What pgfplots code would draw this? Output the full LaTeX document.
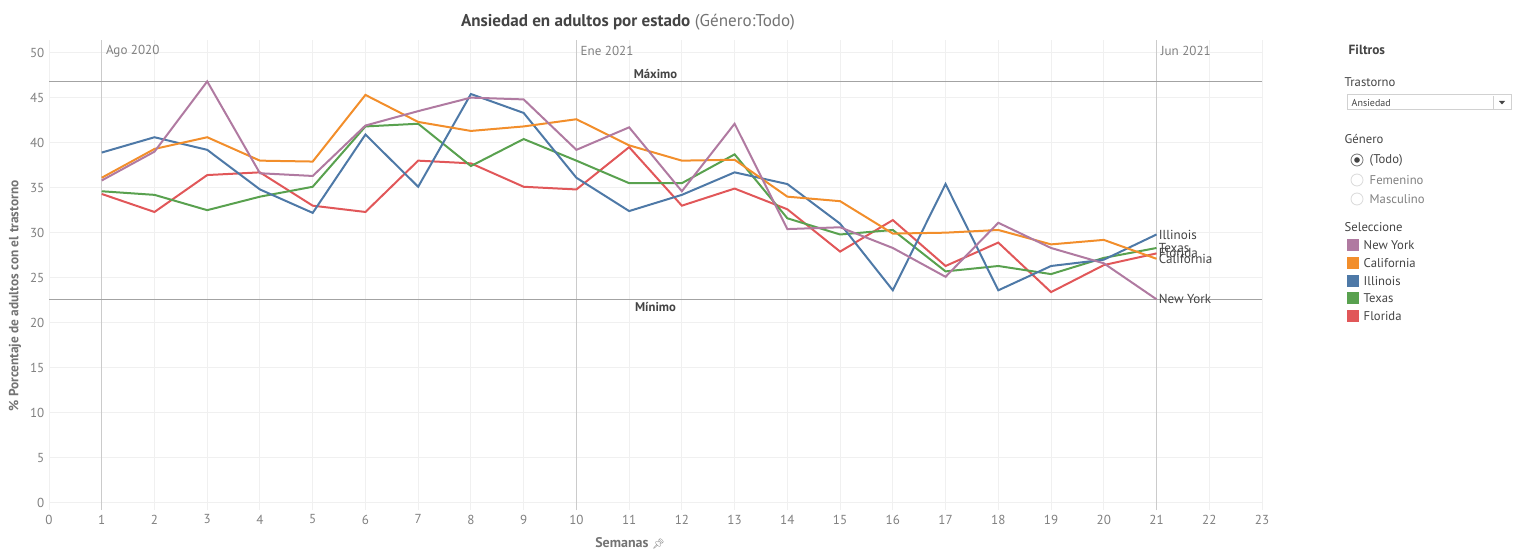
\documentclass[border=0pt]{standalone}
\usepackage{pgfplots}
\pgfplotsset{compat=1.18}
\usepackage{pgfplotstable}
\usepackage{fontspec}
\setmainfont{PT Sans}
\newfontfamily\emojifont{Noto Emoji}
\definecolor{ny}{HTML}{B07AA1}
\definecolor{ca}{HTML}{F28E2B}
\definecolor{il}{HTML}{4E79A7}
\definecolor{tx}{HTML}{59A14F}
\definecolor{fl}{HTML}{E15759}
\definecolor{gridc}{HTML}{F0F0F0}
\definecolor{refc}{HTML}{CBCBCB}
\definecolor{limc}{HTML}{A3A3A3}
\definecolor{tickc}{HTML}{808080}
\definecolor{darkt}{HTML}{444444}

% semana, New York, California, Illinois, Texas, Florida
\pgfplotstableread{
week ny   ca   il   tx   fl
1    35.8 36.1 38.9 34.6 34.3
2    39.0 39.3 40.6 34.2 32.3
3    46.8 40.6 39.2 32.5 36.4
4    36.6 38.0 34.8 34.0 36.7
5    36.3 37.9 32.2 35.1 33.0
6    41.9 45.3 40.9 41.8 32.3
7    43.5 42.3 35.1 42.1 38.0
8    45.0 41.3 45.4 37.4 37.7
9    44.8 41.8 43.3 40.4 35.1
10   39.2 42.6 36.1 38.0 34.8
11   41.7 39.7 32.4 35.5 39.5
12   34.6 38.0 34.2 35.5 33.0
13   42.1 38.1 36.7 38.7 34.9
14   30.4 34.0 35.4 31.6 32.6
15   30.6 33.5 31.0 29.8 27.9
16   28.3 29.9 23.6 30.3 31.4
17   25.1 30.0 35.4 25.7 26.3
18   31.1 30.3 23.6 26.3 28.9
19   28.3 28.7 26.3 25.4 23.4
20   26.6 29.2 27.0 27.2 26.4
21   22.6 27.1 29.8 28.3 27.7
}\ansiedad

\begin{document}
\begin{tikzpicture}
\begin{axis}[at={(36.75pt,-30pt)},anchor=north west,scale only axis,
  width=909.75pt,height=352.5pt,
  xmin=0,xmax=23,ymin=-0.8,ymax=51.4,
  xtick={0,...,23},ytick={0,5,...,50},
  axis line style={draw=none},major tick length=0pt,
  grid=major,grid style={color=gridc,line width=0.75pt},
  extra x ticks={1,10,21},extra x tick labels={},
  extra x tick style={grid style={color=refc,line width=0.8pt},major tick length=0pt},
  tick label style={font=\fontsize{9.8}{11}\selectfont,color=tickc},
  /pgf/number format/assume math mode=true,
  clip=false]
\addplot[limc,line width=1.1pt] coordinates {(0,46.8) (23,46.8)};
\addplot[limc,line width=1.1pt] coordinates {(0,22.6) (23,22.6)};
\addplot[fl,line width=1.5pt] table[x=week,y=fl]{\ansiedad};
\addplot[tx,line width=1.5pt] table[x=week,y=tx]{\ansiedad};
\addplot[il,line width=1.5pt] table[x=week,y=il]{\ansiedad};
\addplot[ca,line width=1.5pt] table[x=week,y=ca]{\ansiedad};
\addplot[ny,line width=1.5pt] table[x=week,y=ny]{\ansiedad};
\node[anchor=south,font=\bfseries\fontsize{9.5}{11}\selectfont,color=darkt,inner sep=2pt] at (axis cs:11.5,46.8) {Máximo};
\node[anchor=north,font=\bfseries\fontsize{9.5}{11}\selectfont,color=darkt,inner sep=2pt] at (axis cs:11.5,22.6) {Mínimo};
\node[anchor=west,font=\fontsize{9.8}{11}\selectfont,color=tickc,inner sep=3pt] at (axis cs:1,50.2) {Ago 2020};
\node[anchor=west,font=\fontsize{9.8}{11}\selectfont,color=tickc,inner sep=3pt] at (axis cs:10,50.2) {Ene 2021};
\node[anchor=west,font=\fontsize{9.8}{11}\selectfont,color=tickc,inner sep=3pt] at (axis cs:21,50.2) {Jun 2021};
\node[anchor=west,font=\fontsize{9.8}{11}\selectfont,color=darkt,inner sep=1.5pt] at (axis cs:21,29.8) {Illinois};
\node[anchor=west,font=\fontsize{9.8}{11}\selectfont,color=darkt,inner sep=1.5pt] at (axis cs:21,28.3) {Texas};
\node[anchor=west,font=\fontsize{9.8}{11}\selectfont,color=darkt,inner sep=1.5pt] at (axis cs:21,27.7) {Florida};
\node[anchor=west,font=\fontsize{9.8}{11}\selectfont,color=darkt,inner sep=1.5pt] at (axis cs:21,27.1) {California};
\node[anchor=west,font=\fontsize{9.8}{11}\selectfont,color=darkt,inner sep=1.5pt] at (axis cs:21,22.6) {New York};
\end{axis}

\begin{scope}[x=0.75pt,y=-0.75pt]
% titulo y ejes
\node[font=\fontsize{12.8}{14}\selectfont,color=darkt] at (628,22)
  {\textbf{Ansiedad en adultos por estado} {\color{gray!90!black}(Género:Todo)}};
\node[rotate=90,font=\bfseries\fontsize{10}{12}\selectfont,color=gray!90!black] at (15,296)
  {\% Porcentaje de adultos con el trastorno};
\node[font=\bfseries\fontsize{10.5}{12}\selectfont,color=gray!90!black] at (630,543)
  {Semanas {\emojifont\fontsize{7.5}{8}\selectfont 📌}};
% panel de filtros
\node[anchor=west,font=\bfseries\fontsize{10}{12}\selectfont,color=darkt] at (1344,50) {Filtros};
\node[anchor=west,font=\fontsize{9.5}{11}\selectfont,color=darkt] at (1340,82) {Trastorno};
\draw[color=black!18,line width=0.75pt] (1347,95) rectangle (1511,110);
\draw[color=black!18,line width=0.5pt] (1493,96) -- (1493,109);
\fill[darkt] (1499,101) -- (1505,101) -- (1502,104.5) -- cycle;
\node[anchor=west,font=\fontsize{7.5}{9}\selectfont,color=darkt] at (1347,103) {Ansiedad};
\node[anchor=west,font=\fontsize{9.5}{11}\selectfont,color=darkt] at (1340,139) {Género};
\draw[color=black!55,line width=0.6pt] (1357,160) circle (6);
\fill[darkt] (1357,160) circle (2.8);
\draw[color=black!15,line width=0.6pt] (1357,180) circle (6);
\draw[color=black!15,line width=0.6pt] (1357,199) circle (6);
\node[anchor=west,font=\fontsize{9.5}{11}\selectfont,color=darkt] at (1365,160) {(Todo)};
\node[anchor=west,font=\fontsize{9.5}{11}\selectfont,color=gray] at (1365,180) {Femenino};
\node[anchor=west,font=\fontsize{9.5}{11}\selectfont,color=gray] at (1365,199) {Masculino};
\node[anchor=west,font=\fontsize{9.5}{11}\selectfont,color=darkt] at (1340,227) {Seleccione};
\fill[ny] (1347,239.5) rectangle (1359,251.5);
\fill[ca] (1347,257.5) rectangle (1359,269.5);
\fill[il] (1347,275.5) rectangle (1359,287.5);
\fill[tx] (1347,292.5) rectangle (1359,304.5);
\fill[fl] (1347,310.5) rectangle (1359,322.5);
\node[anchor=west,font=\fontsize{9.5}{11}\selectfont,color=darkt] at (1359,245) {New York};
\node[anchor=west,font=\fontsize{9.5}{11}\selectfont,color=darkt] at (1359,263) {California};
\node[anchor=west,font=\fontsize{9.5}{11}\selectfont,color=darkt] at (1359,281) {Illinois};
\node[anchor=west,font=\fontsize{9.5}{11}\selectfont,color=darkt] at (1359,298) {Texas};
\node[anchor=west,font=\fontsize{9.5}{11}\selectfont,color=darkt] at (1359,316) {Florida};
\end{scope}
\pgfresetboundingbox
\path (0,0) rectangle (1140.75pt,-414pt);
\end{tikzpicture}
\end{document}
